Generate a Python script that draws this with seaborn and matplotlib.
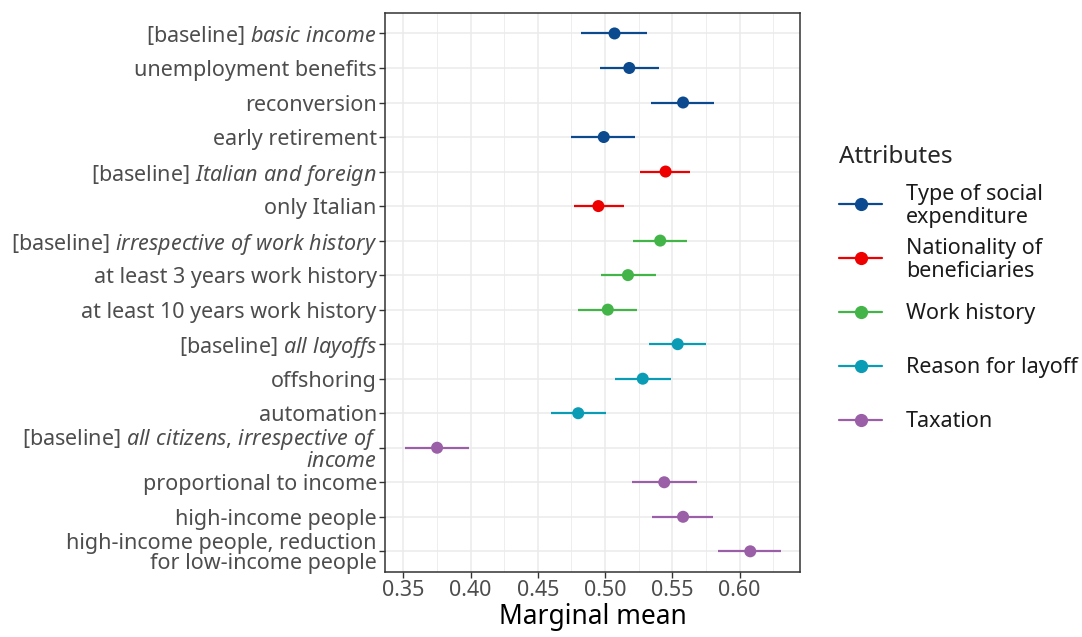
import numpy as np
import pandas as pd
import seaborn as sns
import matplotlib.pyplot as plt
from matplotlib.lines import Line2D
from matplotlib.ticker import MultipleLocator
from matplotlib.transforms import Affine2D

# data
levels = [
    r'[baseline] $\mathit{basic\ income}$',
    'unemployment benefits',
    'reconversion',
    'early retirement',
    r'[baseline] $\mathit{Italian\ and\ foreign}$',
    'only Italian',
    r'[baseline] $\mathit{irrespective\ of\ work\ history}$',
    'at least 3 years work history',
    'at least 10 years work history',
    r'[baseline] $\mathit{all\ layoffs}$',
    'offshoring',
    'automation',
    '[baseline] $\\mathit{all\\ citizens{,}\\ irrespective\\ of}$\n$\\mathit{income}$',
    'proportional to income',
    'high-income people',
    'high-income people, reduction\nfor low-income people',
]
attribute = (['Type of social\nexpenditure'] * 4 + ['Nationality of\nbeneficiaries'] * 2
             + ['Work history'] * 3 + ['Reason for layoff'] * 3 + ['Taxation'] * 4)
estimate = [0.507, 0.518, 0.558, 0.499, 0.545, 0.495, 0.541, 0.517, 0.502,
            0.554, 0.528, 0.480, 0.375, 0.544, 0.558, 0.608]
lower = [0.482, 0.496, 0.534, 0.475, 0.526, 0.477, 0.521, 0.497, 0.480,
         0.533, 0.507, 0.460, 0.351, 0.520, 0.535, 0.584]
upper = [0.531, 0.540, 0.581, 0.522, 0.563, 0.514, 0.561, 0.538, 0.524,
         0.575, 0.549, 0.501, 0.399, 0.568, 0.580, 0.631]

attr_order = ['Type of social\nexpenditure', 'Nationality of\nbeneficiaries',
              'Work history', 'Reason for layoff', 'Taxation']
colors = ['#0b4a8f', '#ee0000', '#43b548', '#0a9bb5', '#9a5fa6']
palette = dict(zip(attr_order, colors))

df = pd.DataFrame({'level': levels, 'attribute': attribute, 'estimate': estimate,
                   'lower': lower, 'upper': upper})
df['pos'] = np.arange(len(df))

sns.set_theme(style='white')
plt.rcParams['font.family'] = ['Noto Sans', 'DejaVu Sans']
plt.rcParams['mathtext.fontset'] = 'custom'
plt.rcParams['mathtext.rm'] = 'Noto Sans'
plt.rcParams['mathtext.it'] = 'Noto Sans:italic'

fig = plt.figure(figsize=(10.82, 6.37), dpi=100)
ax = fig.add_axes([0.356, 0.102, 0.383, 0.878])

# error bars
for attr in attr_order:
    sub = df[df['attribute'] == attr]
    ax.hlines(sub['pos'], sub['lower'], sub['upper'], color=palette[attr], lw=1.6, zorder=3)

sns.scatterplot(data=df, x='estimate', y='pos', hue='attribute', hue_order=attr_order,
                palette=palette, s=75, edgecolor='none', legend=False, ax=ax, zorder=4)

ax.set_xlim(0.3364, 0.6447)
ax.set_ylim(len(df) - 0.4, -0.6)
ax.xaxis.set_major_locator(MultipleLocator(0.05))
ax.xaxis.set_minor_locator(MultipleLocator(0.025))
ax.xaxis.set_major_formatter(plt.FuncFormatter(lambda v, p: f'{v:.2f}'))
ax.set_yticks(df['pos'])
ax.set_yticklabels(df['level'], ha='right', multialignment='right', linespacing=0.95)

ax.grid(True, which='major', color='#ebebeb', lw=1.1)
ax.grid(True, which='minor', axis='x', color='#ebebeb', lw=0.6)
ax.set_axisbelow(True)
for s in ax.spines.values():
    s.set_color('#333333')
    s.set_linewidth(1.1)

ax.tick_params(axis='both', which='major', length=4, width=1, color='#333333',
               labelsize=15.5, labelcolor='#4d4d4d', left=True, bottom=True, pad=2)
ax.tick_params(axis='both', which='minor', length=0)
ax.set_xlabel('Marginal mean', fontsize=19, color='black', labelpad=1)
ax.set_ylabel('')

handles = [Line2D([0], [0], color=palette[a], lw=1.6, marker='o', markersize=8.5)
           for a in attr_order]
leg = ax.legend(handles, attr_order, title='Attributes', loc='center left',
                bbox_to_anchor=(1.075, 0.487), frameon=False, fontsize=15.5,
                title_fontsize=17.5, handlelength=2.0, handleheight=3.2,
                labelspacing=0.18, handletextpad=1.1, borderaxespad=0)
for t in leg.get_texts():
    t.set_linespacing(1.1)
    t.set_color('#1a1a1a')
    # nudge labels up so they sit centred on their keys
    t.set_transform(t.get_transform() + Affine2D().translate(0, 7.5))
leg._legend_box.align = 'left'
leg._legend_box.sep = 14
for col in leg._legend_handle_box.get_children():
    for item in col.get_children():
        item.align = 'center'

fig.savefig('out.png', dpi=100)
